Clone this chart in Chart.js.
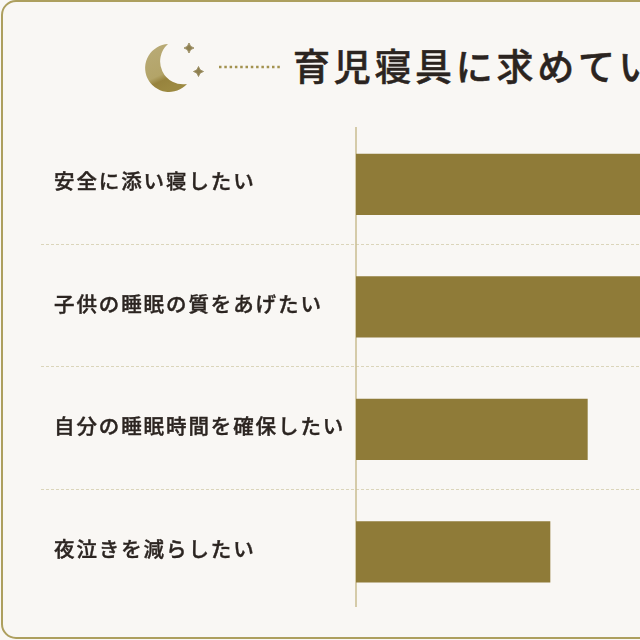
<!DOCTYPE html>
<html lang="ja">
<head>
<meta charset="utf-8">
<title>育児寝具に求めていること</title>
<script src="https://cdn.jsdelivr.net/npm/chart.js@4/dist/chart.umd.min.js"></script>
<style>
    html, body { margin: 0; padding: 0; width: 640px; height: 640px; overflow: hidden; background: #f9f7f4; }
    #frame {
        position: absolute; left: 1px; top: 0; width: 700px; height: 639px;
        border: 2px solid #ad9f5e; border-radius: 15px; box-sizing: border-box;
    }
    #myBarChart { position: absolute; left: 0; top: 0; }
    #icon { position: absolute; left: 0; top: 0; }
    h1 {
        position: absolute; left: 293px; top: 40px; margin: 0; white-space: nowrap;
        font: 500 37px "Noto Sans CJK JP", sans-serif; letter-spacing: 3.7px; color: #2b2420; line-height: 50px;
        -webkit-text-stroke: 0.5px #2b2420;
    }
</style>
</head>
<body>
<div id="frame"></div>
<svg id="icon" width="300" height="110">
    <defs>
        <linearGradient id="moonFill" x1="0" y1="0" x2="0.4" y2="1">
            <stop offset="0" stop-color="#b9ab78"/>
            <stop offset="0.68" stop-color="#b3a468"/>
            <stop offset="0.8" stop-color="#97833d"/>
            <stop offset="1" stop-color="#9c8941"/>
        </linearGradient>
    </defs>
    <path d="M168 44 A24 24 0 1 0 187 84 A23 23 0 0 1 168 44 Z" fill="url(#moonFill)"/>
    <path d="M189 43 Q189.800 47.200 194 48 Q189.800 48.800 189 53 Q188.200 48.800 184 48 Q188.200 47.200 189 43 Z" fill="#8f8050" stroke="#8f8050" stroke-width="0.800"/>
    <path d="M198.500 66.500 Q199.300 70.700 203.500 71.500 Q199.300 72.300 198.500 76.500 Q197.700 72.300 193.500 71.500 Q197.700 70.700 198.500 66.500 Z" fill="#8f8050" stroke="#8f8050" stroke-width="0.800"/>
    <line x1="219" y1="67" x2="282" y2="67" stroke="#a3924f" stroke-width="2.500" stroke-dasharray="2.500 2.800"/>
</svg>
<h1>育児寝具に求めていること</h1>
<canvas id="myBarChart" width="640" height="640"></canvas>
<script>
// valori letti a occhio; le prime due barre escono dal bordo destro
const categories = ['安全に添い寝したい', '子供の睡眠の質をあげたい', '自分の睡眠時間を確保したい', '夜泣きを減らしたい'];
const values = [45, 42, 31, 26];
const axisMax = 38;

const rowLines = {
    id: 'rowLines',
    beforeDraw(chart) {
        chart.ctx.letterSpacing = '1.9px';
    },
    beforeDatasetsDraw(chart) {
        const { ctx, chartArea, scales } = chart;
        ctx.save();
        ctx.letterSpacing = '0px';
        // separatori tratteggiati tra le righe
        ctx.strokeStyle = '#dbd5ba';
        ctx.lineWidth = 1;
        ctx.setLineDash([3, 2]);
        categories.slice(1).forEach((c, i) => {
            const y = Math.round((scales.y.getPixelForTick(i) + scales.y.getPixelForTick(i + 1)) / 2) - 1.5;
            ctx.beginPath();
            ctx.moveTo(41, y);
            ctx.lineTo(chartArea.right, y);
            ctx.stroke();
        });
        // asse verticale
        ctx.setLineDash([]);
        ctx.strokeStyle = '#c8bc90';
        ctx.lineWidth = 1.5;
        ctx.beginPath();
        ctx.moveTo(chartArea.left, chartArea.top + 4);
        ctx.lineTo(chartArea.left, chartArea.bottom - 6);
        ctx.stroke();
        ctx.restore();
    }
};

const chartData = {
    labels: categories,
    datasets: [{
        data: values,
        backgroundColor: '#8f7b38',
        borderWidth: 0,
        barPercentage: 0.5,
        categoryPercentage: 1
    }]
};

const chart = new Chart(document.getElementById('myBarChart').getContext('2d'), {
    type: 'bar',
    data: chartData,
    plugins: [rowLines],
    options: {
        indexAxis: 'y',
        responsive: false,
        animation: false,
        layout: { padding: { left: 54, top: 123, bottom: 27, right: 0 } },
        plugins: {
            legend: { display: false },
            tooltip: { enabled: false }
        },
        scales: {
            x: { display: false, min: 0, max: axisMax },
            y: {
                afterFit(scale) { scale.width = 302; },
                grid: { display: false, drawTicks: false },
                border: { display: false },
                ticks: {
                    crossAlign: 'far',
                    color: '#2b2420',
                    padding: 0,
                    autoSkip: false,
                    labelOffset: -3,
                    textStrokeColor: '#2b2420',
                    textStrokeWidth: 0.4,
                    font: { family: '"Noto Sans CJK JP"', size: 20.5, weight: '500' }
                }
            }
        }
    }
});
</script>
</body>
</html>
